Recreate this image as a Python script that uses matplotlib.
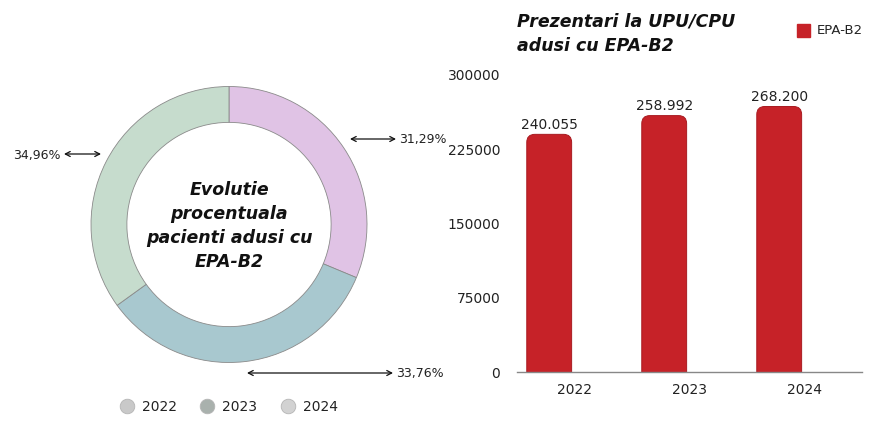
import matplotlib
matplotlib.use("Agg")
import matplotlib.pyplot as plt
from matplotlib.patches import FancyBboxPatch

# ---- data ----
years = ["2022", "2023", "2024"]
pct_values = [31.29, 33.76, 34.96]
pct_labels = ["31,29%", "33,76%", "34,96%"]
bar_values = [240055, 258992, 268200]
bar_labels = ["240.055", "258.992", "268.200"]
y_ticks = [0, 75000, 150000, 225000, 300000]
series_name = "EPA-B2"

W, H = 881, 421
fig = plt.figure(figsize=(W / 100, H / 100), dpi=100)
fig.patch.set_facecolor("white")

FONT = "DejaVu Sans"
TXT = "#222222"

# ---- overlay axes in pixel coordinates (y up) ----
ov = fig.add_axes([0, 0, 1, 1])
def Y(y):
    return H - y

slice_colors = ["#e0c3e5", "#a8c8cf", "#c6dccd"]
cx, cy, R = 229, Y(224.5), 138
ov.pie(pct_values, colors=slice_colors, startangle=90, counterclock=False,
       center=(cx, cy), radius=R,
       wedgeprops=dict(width=R * 0.26, edgecolor="#8a8a8a", linewidth=0.6))
ov.set_xlim(0, W)
ov.set_ylim(0, H)
ov.set_aspect("auto")
ov.axis("off")

# centre text
ov.text(cx, Y(226), "Evolutie\nprocentuala\npacienti adusi cu\nEPA-B2",
        ha="center", va="center", fontsize=12.5, fontweight="bold",
        fontstyle="italic", family=FONT, color="#111111", linespacing=1.45)

# percentage annotations with double arrows
arrow_kw = dict(arrowstyle="<->,head_length=0.35,head_width=0.18",
                color="#111111", lw=0.9, shrinkA=0, shrinkB=0)
ann = [  # (label index, x0, x1, y, text x, ha)
    (0, 350, 396, 139, 399, "left"),
    (1, 247, 393, 373, 396, "left"),
    (2, 64, 101, 154, 61, "right"),
]
for idx, x0, x1, y, tx, ha in ann:
    ov.annotate("", xy=(x1, Y(y)), xytext=(x0, Y(y)), arrowprops=arrow_kw)
    ov.text(tx, Y(y + 1), pct_labels[idx], ha=ha, va="center", fontsize=9,
            family=FONT, color=TXT)

# donut legend
leg_colors = ["#c9c9c9", "#a9b1ad", "#d2d2d2"]
leg_x = [127, 207, 288]
for i, yr in enumerate(years):
    ov.scatter([leg_x[i]], [Y(406)], s=110, color=leg_colors[i],
               edgecolor="#b5b5b5", linewidth=0.6, zorder=3)
    ov.text(leg_x[i] + 15, Y(407), yr, ha="left", va="center",
            fontsize=10, family=FONT, color=TXT)

# bar chart title & legend
ov.text(517, Y(34), "Prezentari la UPU/CPU\nadusi cu EPA-B2", ha="left",
        va="center", fontsize=12.5, fontweight="bold", fontstyle="italic",
        family=FONT, color="#111111", linespacing=1.45)
ov.add_patch(plt.Rectangle((797, Y(37)), 13, 13, color="#c62228"))
ov.text(817, Y(31), series_name, ha="left", va="center", fontsize=9.5,
        family=FONT, color=TXT)

# ---- bar chart axes ----
left, right, bottom, top = 517, 862, 372, 75
ax = fig.add_axes([left / W, Y(bottom) / H, (right - left) / W, (bottom - top) / H])
ax.set_facecolor("none")
xs = list(range(len(years)))
offset, bw = -0.22, 0.39
bars = ax.bar([x + offset for x in xs], bar_values, width=bw, color="#c62228")
ax.set_xlim(-0.5, len(years) - 0.5)
ax.set_ylim(0, 300000)

# rounded tops
px_x = (right - left) / 3.0          # px per x unit
px_y = (bottom - top) / 300000.0     # px per y unit
for b in bars:
    b.set_visible(False)
    x, w, h = b.get_x(), b.get_width(), b.get_height()
    p = FancyBboxPatch((x, -30000), w, h + 30000,
                       boxstyle="round,pad=0,rounding_size=0.07",
                       mutation_aspect=px_x / px_y,
                       facecolor="#c62228", edgecolor="#a81a20", linewidth=0.7)
    ax.add_patch(p)

for x, v, lab in zip(xs, bar_values, bar_labels):
    ax.text(x + offset, v + 2500, lab, ha="center", va="bottom", fontsize=10,
            family=FONT, color=TXT)

ax.set_xticks(xs)
ax.set_xticklabels(years, fontsize=10, family=FONT, color=TXT)
ax.set_yticks(y_ticks)
ax.set_yticklabels([str(t) for t in y_ticks], fontsize=10, family=FONT, color=TXT)
ax.tick_params(length=0, pad=12, axis="y")
ax.tick_params(length=0, pad=8, axis="x")
for s in ["top", "right", "left"]:
    ax.spines[s].set_visible(False)
ax.spines["bottom"].set_color("#888888")
ax.spines["bottom"].set_linewidth(1)

fig.savefig("out.png", dpi=100, facecolor="white")
